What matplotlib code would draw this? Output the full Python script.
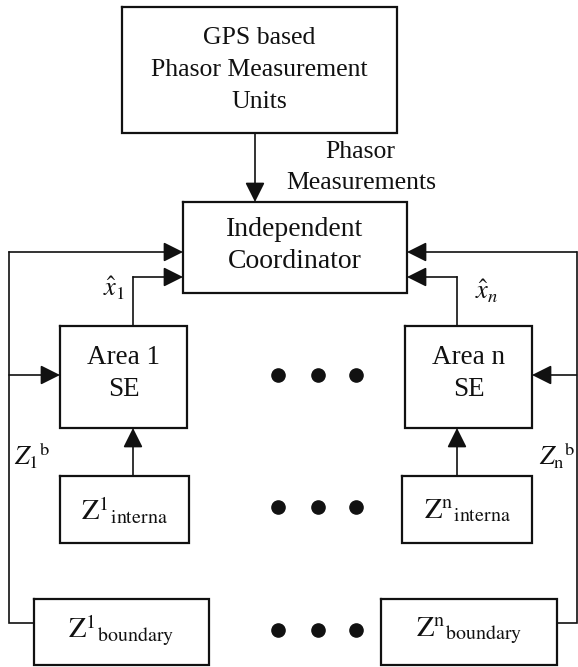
import matplotlib
matplotlib.use('Agg')
import matplotlib.pyplot as plt

plt.rcParams['font.family'] = ['Liberation Serif', 'DejaVu Serif']
plt.rcParams['mathtext.fontset'] = 'stix'

# ---- diagram content ----
box_texts = [
    ['GPS based', 'Phasor Measurement', 'Units'],
    ['Independent', 'Coordinator'],
    ['Area 1', 'SE'],
    ['Area n', 'SE'],
    [r'$\mathrm{Z}^{1}{}_{\mathrm{interna}}$'],
    [r'$\mathrm{Z}^{\mathrm{n}}{}_{\mathrm{interna}}$'],
    [r'$\mathrm{Z}^{1}{}_{\mathrm{boundary}}$'],
    [r'$\mathrm{Z}^{\mathrm{n}}{}_{\mathrm{boundary}}$'],
]
edge_labels = ['Phasor', 'Measurements', r'$\hat{x}_1$', r'$\hat{x}_n$',
               r'$Z_1{}^{\mathrm{b}}$', r'$Z_\mathrm{n}{}^{\mathrm{b}}$']

# ---- layout (pixel coordinates, y downward) ----
boxes = [
    (122, 7, 397, 133),
    (183, 202, 407, 293),
    (60, 326, 187, 428),
    (405, 326, 532, 428),
    (60, 476, 189, 543),
    (402, 476, 532, 543),
    (34, 599, 209, 665),
    (381, 599, 557, 665),
]
line_y = [
    [38, 70, 102],
    [230, 262],
    [357, 390],
    [357, 390],
    [511],
    [511],
    [631],
    [631],
]
box_fs = [18.5, 20, 19.5, 19.5, 20.5, 20.5, 20.5, 20.5]

fig = plt.figure(figsize=(5.78, 6.67), dpi=100)
ax = fig.add_axes([0, 0, 1, 1])
ax.set_xlim(0, 578)
ax.set_ylim(667, 0)
ax.axis('off')

col = '#111111'
for (x0, y0, x1, y1), lines, ys, fs in zip(boxes, box_texts, line_y, box_fs):
    ax.plot([x0, x1, x1, x0, x0], [y0, y0, y1, y1, y0], color=col, lw=1.6,
            solid_joinstyle='miter')
    cx = (x0 + x1) / 2
    for t, y in zip(lines, ys):
        ax.text(cx, y, t, ha='center', va='center', fontsize=fs, color=col)


def connector(pts):
    xs = [p[0] for p in pts]
    ys = [p[1] for p in pts]
    if len(pts) > 2:
        ax.plot(xs[:-1], ys[:-1], color=col, lw=1.2, solid_joinstyle='miter')
    ax.annotate('', xy=pts[-1], xytext=pts[-2],
                arrowprops=dict(arrowstyle='-|>,head_length=0.8,head_width=0.4',
                                mutation_scale=15, color=col, lw=1.2,
                                shrinkA=0, shrinkB=0))


connector([(255, 133), (255, 202)])
connector([(34, 623), (9, 623), (9, 252), (183, 252)])
connector([(9, 375), (60, 375)])
connector([(133, 326), (133, 277), (183, 277)])
connector([(133, 476), (133, 428)])
connector([(557, 623), (576.5, 623), (576.5, 252), (407, 252)])
connector([(576.5, 375), (532, 375)])
connector([(457, 326), (457, 277), (407, 277)])
connector([(457, 476), (457, 428)])

label_pos = [(360, 152), (361, 183), (114, 288), (487, 291), (32, 456), (557, 456)]
label_fs = [18.5, 18.5, 19, 19, 19, 19]
for t, (x, y), fs in zip(edge_labels, label_pos, label_fs):
    ax.text(x, y, t, ha='center', va='center', fontsize=fs, color=col)

dot_x = [278, 318, 356]
dot_rows = [375, 507, 630]
for y in dot_rows:
    ax.plot(dot_x, [y] * len(dot_x), 'o', color=col, markersize=9.5)

fig.savefig('out.png', dpi=100, facecolor='white')
